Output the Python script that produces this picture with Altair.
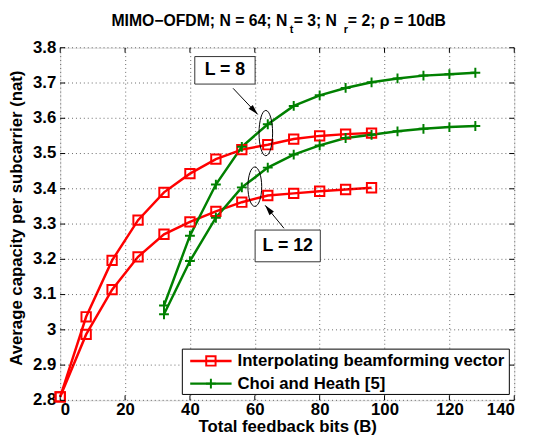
import altair as alt
import pandas as pd

# ---- data ----
x_interp = [0, 8, 16, 24, 32, 40, 48, 56, 64, 72, 80, 88, 96]
interp_L8 = [2.81, 3.037, 3.197, 3.311, 3.39, 3.443, 3.484, 3.511, 3.525, 3.541, 3.55, 3.555, 3.558]
interp_L12 = [2.81, 2.987, 3.114, 3.207, 3.271, 3.306, 3.336, 3.362, 3.381, 3.387, 3.393, 3.398, 3.403]

x_choi = [32, 40, 48, 56, 64, 72, 80, 88, 96, 104, 112, 120, 128]
choi_L8 = [3.069, 3.267, 3.412, 3.519, 3.583, 3.635, 3.665, 3.686, 3.702, 3.713, 3.721, 3.725, 3.729]
choi_L12 = [3.044, 3.195, 3.318, 3.404, 3.46, 3.497, 3.523, 3.544, 3.553, 3.563, 3.57, 3.575, 3.578]

legend_labels = ["Interpolating beamforming vector", "Choi and Heath [5]"]
x_ticks = [0, 20, 40, 60, 80, 100, 120, 140]
y_ticks = [2.8, 2.9, 3.0, 3.1, 3.2, 3.3, 3.4, 3.5, 3.6, 3.7, 3.8]
y_title = "Average capacity per subcarrier (nat)"
x_title = "Total feedback bits (B)"

# annotations (data coords)
box_labels = ["L = 8", "L = 12"]
box_x = [41.5, 60.1]
box_x2 = [60.1, 80.2]
box_y = [3.697, 3.193]
box_y2 = [3.775, 3.283]
ell_x = [63.4, 60.0]
ell_y = [3.558, 3.406]
arrow_x = [53.3, 69.0]
arrow_y = [3.685, 3.288]
arrow_tx = [60.9, 63.2]
arrow_ty = [3.611, 3.353]
arrow_angle = [137, 321]

RED = "#ff0000"
GREEN = "#008000"
FONT = "Liberation Sans"
FS = 17

W, H = 461, 358
xs = alt.Scale(domain=[0, 140], nice=False)
ys = alt.Scale(domain=[2.8, 3.8], nice=False)

def series_df(xv, yv, name):
    return pd.DataFrame({"x": xv, "y": yv, "s": name})

df_red = pd.concat([series_df(x_interp, interp_L8, "r8"), series_df(x_interp, interp_L12, "r12")])
df_green = pd.concat([series_df(x_choi, choi_L8, "g8"), series_df(x_choi, choi_L12, "g12")])

X = alt.X("x:Q", scale=xs, axis=alt.Axis(values=x_ticks, title=x_title, grid=True,
          gridColor="#000", gridDash=[1, 3], gridOpacity=0.6, ticks=False, domain=False, labelOverlap=False,
          labelFont=FONT, labelFontWeight="bold", labelFontSize=FS, labelColor="#000", labelPadding=1,
          titleFont=FONT, titleFontWeight="bold", titleFontSize=FS, titleColor="#000", titlePadding=2))
Y = alt.Y("y:Q", scale=ys, axis=alt.Axis(labels=False, grid=False, ticks=False, domain=False, title=""))

PLUS = "M-1,0L1,0M0,-1L0,1"

# manual y grid / labels / title (from y_ticks through the y scale)
yt = pd.DataFrame({"t": y_ticks})
xt = pd.DataFrame({"t": x_ticks})
y_grid = alt.Chart(yt).mark_rule(color="#000", strokeDash=[1, 3], opacity=0.6, strokeWidth=1).encode(
    y=alt.Y("t:Q", scale=ys), x=alt.value(0), x2=alt.value(W))
y_labels = alt.Chart(yt).mark_text(font=FONT, fontWeight="bold", fontSize=FS, color="#000", align="right", baseline="middle").encode(
    y=alt.Y("t:Q", scale=ys), x=alt.value(-4), text=alt.Text("t:Q", format=".1~f"))
y_tit = alt.Chart(pd.DataFrame({"t": [y_title]})).mark_text(font=FONT, fontWeight="bold", fontSize=FS, color="#000",
    align="center", baseline="middle", angle=270).encode(x=alt.value(-44), y=alt.value(173), text="t:N")

red_line = alt.Chart(df_red).mark_line(color=RED, strokeWidth=2.5).encode(x=X, y=Y, detail="s:N")
red_pts = alt.Chart(df_red).mark_point(shape="square", color=RED, filled=False, strokeWidth=2, size=90, opacity=1).encode(x="x:Q", y="y:Q")
green_line = alt.Chart(df_green).mark_line(color=GREEN, strokeWidth=2.5).encode(x="x:Q", y="y:Q", detail="s:N")
green_pts = alt.Chart(df_green).mark_point(shape=PLUS, color=GREEN, filled=False, strokeWidth=2, size=100, opacity=1).encode(x="x:Q", y="y:Q")

# inward tick marks on all four sides
tick_b = alt.Chart(xt).mark_rule(color="#000", strokeWidth=1).encode(x=alt.X("t:Q", scale=xs), y=alt.value(H), y2=alt.value(H - 5))
tick_t = alt.Chart(xt).mark_rule(color="#000", strokeWidth=1).encode(x=alt.X("t:Q", scale=xs), y=alt.value(0), y2=alt.value(5))
tick_l = alt.Chart(yt).mark_rule(color="#000", strokeWidth=1).encode(y=alt.Y("t:Q", scale=ys), x=alt.value(0), x2=alt.value(5))
tick_r = alt.Chart(yt).mark_rule(color="#000", strokeWidth=1).encode(y=alt.Y("t:Q", scale=ys), x=alt.value(W), x2=alt.value(W - 5))

ann = pd.DataFrame({"label": box_labels, "x": box_x, "x2": box_x2, "y": box_y, "y2": box_y2,
                    "cx": [(a + b) / 2 for a, b in zip(box_x, box_x2)],
                    "cy": [(a + b) / 2 for a, b in zip(box_y, box_y2)]})
boxes = alt.Chart(ann).mark_rect(fill="white", stroke="#333", strokeWidth=1).encode(
    x=alt.X("x:Q", scale=xs), x2="x2", y=alt.Y("y:Q", scale=ys), y2="y2")
box_text = alt.Chart(ann).mark_text(font=FONT, fontWeight="bold", fontSize=18, color="#000", baseline="middle", align="center").encode(
    x=alt.X("cx:Q", scale=xs), y=alt.Y("cy:Q", scale=ys), text="label:N")

ell_df = pd.DataFrame({"x": ell_x, "y": ell_y})
ell_up = alt.Chart(ell_df.iloc[[0]]).mark_point(shape="M0,-1A0.3,1 0 1,1 0,1A0.3,1 0 1,1 0,-1Z", size=2116, filled=False, color="#000", strokeWidth=1, opacity=1).encode(x="x:Q", y="y:Q")
ell_lo = alt.Chart(ell_df.iloc[[1]]).mark_point(shape="M0,-1A0.35,1 0 1,1 0,1A0.35,1 0 1,1 0,-1Z", size=1600, filled=False, color="#000", strokeWidth=1, opacity=1).encode(x="x:Q", y="y:Q")

arr_df = pd.DataFrame({"x": arrow_x, "y": arrow_y, "tx": arrow_tx, "ty": arrow_ty, "ang": arrow_angle})
arr_line = alt.Chart(arr_df).mark_rule(color="#000", strokeWidth=1).encode(
    x=alt.X("x:Q", scale=xs), y=alt.Y("y:Q", scale=ys), x2="tx", y2="ty")
arr_head = alt.Chart(arr_df).mark_point(shape="M0,0L-0.55,2L0.55,2Z", size=110, filled=True, color="#000", opacity=1).encode(
    x=alt.X("tx:Q", scale=xs), y=alt.Y("ty:Q", scale=ys), angle=alt.Angle("ang:Q", scale=None))

# legend (drawn manually, pixel positions)
leg_box = alt.Chart(pd.DataFrame({"a": [0]})).mark_rect(fill="white", stroke="#000", strokeWidth=1).encode(
    x=alt.value(124), x2=alt.value(456), y=alt.value(306), y2=alt.value(352))
leg_df = pd.DataFrame({"label": legend_labels, "row": [0, 1]})
leg_r_line = alt.Chart(leg_df.iloc[[0]]).mark_rule(color=RED, strokeWidth=2.5).encode(x=alt.value(132), x2=alt.value(174), y=alt.value(318))
leg_g_line = alt.Chart(leg_df.iloc[[1]]).mark_rule(color=GREEN, strokeWidth=2.5).encode(x=alt.value(132), x2=alt.value(174), y=alt.value(341))
leg_r_pt = alt.Chart(leg_df.iloc[[0]]).mark_point(shape="square", color=RED, filled=False, strokeWidth=2, size=90, opacity=1).encode(x=alt.value(153), y=alt.value(318))
leg_g_pt = alt.Chart(leg_df.iloc[[1]]).mark_point(shape=PLUS, color=GREEN, filled=False, strokeWidth=2, size=100, opacity=1).encode(x=alt.value(153), y=alt.value(341))
leg_t1 = alt.Chart(leg_df.iloc[[0]]).mark_text(font=FONT, fontWeight="bold", fontSize=FS, color="#000", align="left", baseline="middle").encode(
    x=alt.value(180), y=alt.value(318), text="label:N")
leg_t2 = alt.Chart(leg_df.iloc[[1]]).mark_text(font=FONT, fontWeight="bold", fontSize=FS, color="#000", align="left", baseline="middle").encode(
    x=alt.value(180), y=alt.value(341), text="label:N")

# title with subscripts
title_parts = ["MIMO\u2212OFDM; N = 64; N", "t", " = 3; N", "r", " = 2; \u03c1 = 10dB"]
tdf = pd.DataFrame({"t": title_parts})
TY = -22
TFS = 16
SFS = 11
t1 = alt.Chart(tdf.iloc[[0]]).mark_text(font=FONT, fontWeight="bold", fontSize=TFS, color="#000", align="left", baseline="alphabetic").encode(
    x=alt.value(52), y=alt.value(TY), text="t:N")
t2 = alt.Chart(tdf.iloc[[1]]).mark_text(font=FONT, fontWeight="bold", fontSize=SFS, color="#000", align="left", baseline="alphabetic").encode(
    x=alt.value(233), y=alt.value(TY + 7), text="t:N")
t3 = alt.Chart(tdf.iloc[[2]]).mark_text(font=FONT, fontWeight="bold", fontSize=TFS, color="#000", align="left", baseline="alphabetic").encode(
    x=alt.value(237), y=alt.value(TY), text="t:N")
t4 = alt.Chart(tdf.iloc[[3]]).mark_text(font=FONT, fontWeight="bold", fontSize=SFS, color="#000", align="left", baseline="alphabetic").encode(
    x=alt.value(288), y=alt.value(TY + 7), text="t:N")
t5 = alt.Chart(tdf.iloc[[4]]).mark_text(font=FONT, fontWeight="bold", fontSize=TFS, color="#000", align="left", baseline="alphabetic").encode(
    x=alt.value(292), y=alt.value(TY), text="t:N")

chart = alt.layer(
    red_line, y_grid, y_labels, y_tit, green_line, red_pts, green_pts,
    tick_b, tick_t, tick_l, tick_r,
    ell_up, ell_lo, arr_line, arr_head, boxes, box_text,
    leg_box, leg_r_line, leg_g_line, leg_r_pt, leg_g_pt, leg_t1, leg_t2,
    t1, t2, t3, t4, t5,
).properties(
    width=W, height=H,
    autosize=alt.AutoSizeParams(type="none"),
    padding={"left": 53, "top": 37, "right": 17, "bottom": 44},
).configure_view(stroke="#000", strokeWidth=1.2).configure(background="white")

chart.save("out.html", embed_options={"renderer": "svg", "actions": False})
